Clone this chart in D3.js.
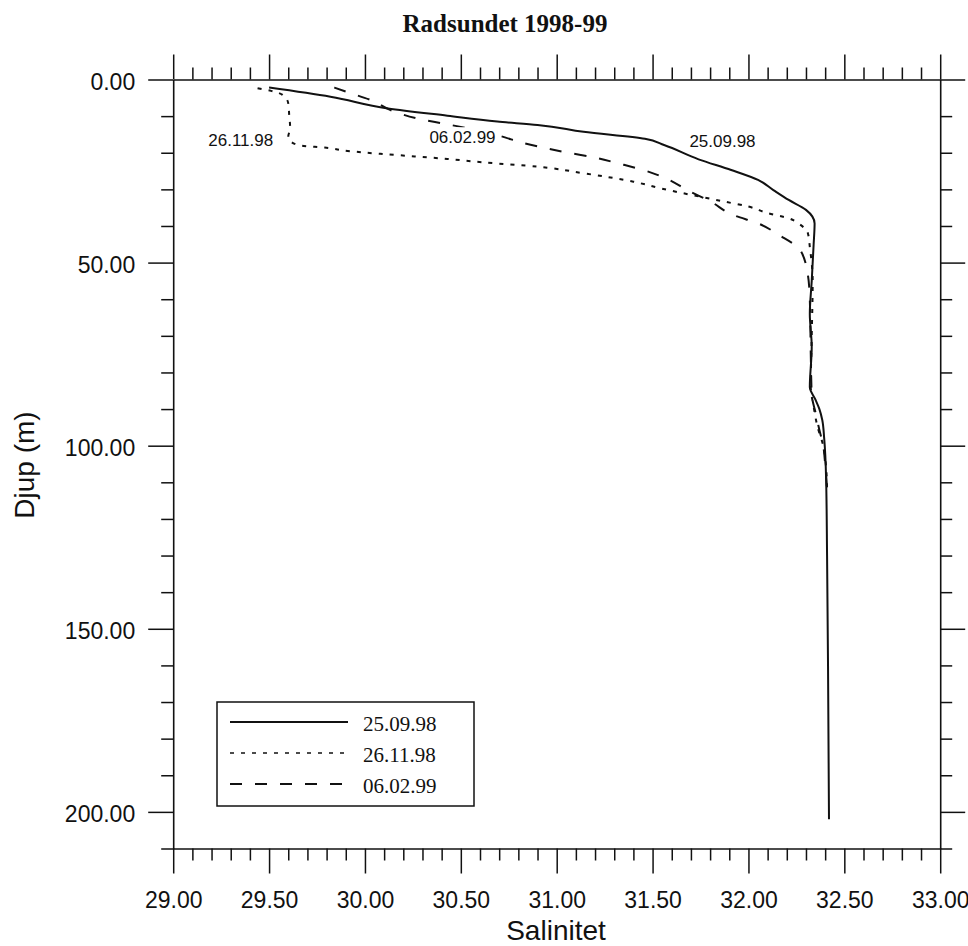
<!DOCTYPE html>
<html>
<head>
<meta charset="utf-8">
<script src="https://cdn.jsdelivr.net/npm/d3@7"></script>
<style>
  html, body { margin: 0; padding: 0; background: #fff; }
  svg { display: block; }
</style>
</head>
<body>
<svg id="chart" width="968" height="946"></svg>
<script>
// ---------------- DATA ----------------
const title = "Radsundet 1998-99";
const xLabel = "Salinitet";
const yLabel = "Djup (m)";
const seriesNames = ["25.09.98", "26.11.98", "06.02.99"];

const xTickValues = [29.0, 29.5, 30.0, 30.5, 31.0, 31.5, 32.0, 32.5, 33.0];
const yTickValues = [0, 50, 100, 150, 200];

// 25.09.98 (solid)
const depth_250998 = [2.2, 4.7, 7.9, 9.9, 11.5, 12.4, 14.3, 16.2, 17.9, 21.8, 24.7, 27.4, 30.2, 32.9, 35.6, 39.3, 45, 55, 64, 73, 84, 87.5, 90, 93, 98, 109, 130, 160, 202];
const sal_250998   = [29.50, 29.82, 30.12, 30.43, 30.69, 30.90, 31.14, 31.46, 31.56, 31.74, 31.91, 32.05, 32.13, 32.21, 32.30, 32.345, 32.34, 32.33, 32.32, 32.33, 32.32, 32.35, 32.37, 32.385, 32.395, 32.405, 32.41, 32.415, 32.42];

// 26.11.98 (dotted)
const depth_261198 = [2.4, 3.1, 4.2, 6.5, 9.7, 13.3, 15.6, 17.0, 18.1, 18.6, 19.5, 20.3, 21.0, 21.7, 22.6, 23.8, 25.6, 27.9, 29.7, 33.4, 34.7, 36.5, 37.9, 39.3, 42.0, 45.7, 55, 70, 84, 89.3, 94.8, 100, 106, 112];
const sal_261198   = [29.44, 29.51, 29.57, 29.60, 29.605, 29.61, 29.60, 29.615, 29.67, 29.79, 29.91, 30.08, 30.26, 30.43, 30.61, 30.90, 31.14, 31.40, 31.54, 31.88, 32.00, 32.10, 32.21, 32.26, 32.31, 32.32, 32.335, 32.33, 32.325, 32.34, 32.36, 32.39, 32.405, 32.41];

// 06.02.99 (dashed)
const depth_060299 = [2.2, 3.3, 5.6, 8.6, 10.6, 12.0, 13.3, 15.8, 17.0, 18.5, 20.0, 21.2, 22.9, 24.7, 27.0, 30.2, 33.4, 37.0, 39.3, 42.5, 46.6, 53.4, 60, 75, 86, 91, 95.7, 100, 105, 112];
const sal_060299   = [29.84, 29.90, 30.03, 30.145, 30.27, 30.405, 30.535, 30.73, 30.80, 30.92, 31.06, 31.19, 31.32, 31.45, 31.57, 31.68, 31.805, 31.92, 32.05, 32.16, 32.27, 32.31, 32.32, 32.325, 32.33, 32.35, 32.37, 32.39, 32.40, 32.41];

// ---------------- LAYOUT ----------------
const svg = d3.select("#chart");
const pLeft = 173.2, pRight = 940.2, pTop = 79.5, pBottom = 848.5;
const FONT_SANS = "'Liberation Sans', Arial, Helvetica, sans-serif";
const FONT_SERIF = "'Liberation Serif', 'Times New Roman', serif";
const INK = "#111";

const x = d3.scaleLinear().domain([29, 33]).range([pLeft, pRight]);
const y = d3.scaleLinear().domain([0, 210]).range([pTop, pBottom]);

const xMinor = d3.range(29.1, 33.0, 0.1).map(v => +v.toFixed(2)).filter(v => Math.abs(v * 2 - Math.round(v * 2)) > 1e-6);
const yMinor = d3.range(10, 211, 10).filter(v => v % 50 !== 0);

function styleAxis(g, withDomain) {
  g.selectAll("line").attr("stroke", INK).attr("stroke-width", 1.5);
  g.select(".domain").attr("stroke", withDomain ? INK : "none").attr("stroke-width", 1.6);
  g.attr("font-family", FONT_SANS).attr("font-size", 23);
  g.selectAll("text").attr("fill", INK);
}

// bottom
let g = svg.append("g").attr("transform", `translate(0,${pBottom})`)
  .call(d3.axisBottom(x).tickValues(xTickValues).tickSize(25).tickSizeOuter(0).tickPadding(18).tickFormat(d3.format(".2f")));
styleAxis(g, true);
g = svg.append("g").attr("transform", `translate(0,${pBottom})`)
  .call(d3.axisBottom(x).tickValues(xMinor).tickSize(12).tickSizeOuter(0).tickFormat(""));
styleAxis(g, false);
// top
g = svg.append("g").attr("transform", `translate(0,${pTop})`)
  .call(d3.axisTop(x).tickValues(xTickValues).tickSize(25).tickSizeOuter(0).tickFormat(""));
styleAxis(g, true);
g = svg.append("g").attr("transform", `translate(0,${pTop})`)
  .call(d3.axisTop(x).tickValues(xMinor).tickSize(12).tickSizeOuter(0).tickFormat(""));
styleAxis(g, false);
// left
g = svg.append("g").attr("transform", `translate(${pLeft},0)`)
  .call(d3.axisLeft(y).tickValues(yTickValues).tickSize(25).tickSizeOuter(0).tickPadding(13).tickFormat(d3.format(".2f")));
styleAxis(g, true);
g.selectAll("text").attr("dy", "0.43em");
g = svg.append("g").attr("transform", `translate(${pLeft},0)`)
  .call(d3.axisLeft(y).tickValues(yMinor).tickSize(12).tickSizeOuter(0).tickFormat(""));
styleAxis(g, false);
// right
g = svg.append("g").attr("transform", `translate(${pRight},0)`)
  .call(d3.axisRight(y).tickValues(yTickValues).tickSize(25).tickSizeOuter(0).tickFormat(""));
styleAxis(g, true);
g = svg.append("g").attr("transform", `translate(${pRight},0)`)
  .call(d3.axisRight(y).tickValues(yMinor).tickSize(12).tickSizeOuter(0).tickFormat(""));
styleAxis(g, false);

// ---------------- LINES ----------------
const series = [
  { name: seriesNames[0], depth: depth_250998, sal: sal_250998, dash: null, width: 2 },
  { name: seriesNames[1], depth: depth_261198, sal: sal_261198, dash: "4,7", width: 2 },
  { name: seriesNames[2], depth: depth_060299, sal: sal_060299, dash: "12,13", width: 2 }
];

const line = d3.line().x(d => x(d[1])).y(d => y(d[0])).curve(d3.curveMonotoneY);

const linesG = svg.append("g");
series.forEach(s => {
  const pts = s.depth.map((d, i) => [d, s.sal[i]]);
  linesG.append("path")
    .datum(pts)
    .attr("d", line)
    .attr("fill", "none")
    .attr("stroke", INK)
    .attr("stroke-width", s.width)
    .attr("stroke-linejoin", "round")
    .attr("stroke-dasharray", s.dash);
});

// inline curve labels (the dashed one breaks its line)
const curveLabels = [
  { text: seriesNames[1], xv: 29.183, dv: 18.2, gap: false },
  { text: seriesNames[2], xv: 30.336, dv: 17.4, gap: true },
  { text: seriesNames[0], xv: 31.692, dv: 18.5, gap: false }
];
const labG = svg.append("g");
curveLabels.forEach(l => {
  const cg = labG.append("g");
  const t = cg.append("text")
    .attr("x", x(l.xv)).attr("y", y(l.dv))
    .attr("font-family", FONT_SANS).attr("font-size", 17)
    .attr("fill", INK).text(l.text);
  if (l.gap) {
    const bb = t.node().getBBox();
    cg.insert("rect", "text")
      .attr("x", bb.x - 3).attr("y", bb.y - 1)
      .attr("width", bb.width + 8).attr("height", bb.height + 1)
      .attr("fill", "#fff");
  }
});

// ---------------- LEGEND ----------------
const lg = svg.append("g");
lg.append("rect")
  .attr("x", 217).attr("y", 702).attr("width", 257).attr("height", 104)
  .attr("fill", "#fff").attr("stroke", INK).attr("stroke-width", 1.5);
series.forEach((s, i) => {
  const ry = 722 + i * 31;
  lg.append("line")
    .attr("x1", 230).attr("x2", 348).attr("y1", ry).attr("y2", ry)
    .attr("stroke", INK).attr("stroke-width", s.dash === "4,7" ? 1.5 : 2)
    .attr("stroke-dasharray", s.dash);
  lg.append("text")
    .attr("x", 363).attr("y", ry + 8.5)
    .attr("font-family", FONT_SERIF).attr("font-size", 21)
    .attr("fill", INK).text(s.name);
});

// ---------------- TITLES ----------------
svg.append("text")
  .attr("x", 505).attr("y", 32).attr("text-anchor", "middle")
  .attr("font-family", FONT_SERIF).attr("font-weight", "bold").attr("font-size", 25)
  .attr("fill", INK).text(title);

svg.append("text")
  .attr("x", 556).attr("y", 940).attr("text-anchor", "middle")
  .attr("font-family", FONT_SANS).attr("font-size", 28)
  .attr("fill", INK).text(xLabel);

svg.append("text")
  .attr("transform", "translate(34,465) rotate(-90)")
  .attr("text-anchor", "middle")
  .attr("font-family", FONT_SANS).attr("font-size", 28)
  .attr("fill", INK).text(yLabel);
</script>
</body>
</html>
